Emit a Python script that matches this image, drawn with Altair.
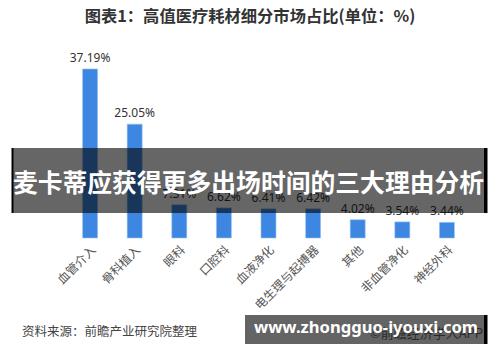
import altair as alt
import pandas as pd

categories = ["血管介入", "骨科植入", "眼科", "口腔科", "血液净化", "电生理与起搏器", "其他", "非血管净化", "神经外科"]
shares = [37.19, 25.05, 7.31, 6.62, 6.41, 6.42, 4.02, 3.54, 3.44]
value_labels = ["37.19%", "25.05%", "7.31%", "6.62%", "6.41%", "6.42%", "4.02%", "3.54%", "3.44%"]

title_text = "图表1：高值医疗耗材细分市场占比(单位：%)"
banner_text = "麦卡蒂应获得更多出场时间的三大理由分析"
source_text = "资料来源：前瞻产业研究院整理"
site_text = "www.zhongguo-iyouxi.com"
app_text = "©前瞻经济学人APP"

df = pd.DataFrame({"cat": categories, "share": shares, "label": value_labels})

# plot area origin in page pixels: left 68, top 38
L, T = 68, 38

x_enc = alt.X("cat:N", sort=categories, title=None,
              scale=alt.Scale(paddingInner=0.67, paddingOuter=0.33),
              axis=alt.Axis(labelAngle=-45, domain=False, ticks=False, labelPadding=6,
                            labelFontSize=12, labelColor="#555555",
                            labelFont="Noto Sans CJK SC"))
y_enc = alt.Y("share:Q", scale=alt.Scale(domain=[0, 44]), axis=None)

base = alt.Chart(df)
bars = base.mark_bar(color="#3D86E2", size=15, stroke="#9cc3f0", strokeWidth=0.6).encode(x=x_enc, y=y_enc)
labels = base.mark_text(dy=-11, fontSize=12, color="#333333", font="Noto Sans").encode(
    x=alt.X("cat:N", sort=categories), y=y_enc, text="label:N")

one = pd.DataFrame({"k": [0]})
ob = alt.Chart(one)

title = ob.mark_text(fontSize=16.3, fontWeight="bold", color="#333333",
                     font="Noto Sans CJK SC", baseline="middle").encode(
    x=alt.value(250 - L), y=alt.value(17 - T), text=alt.value(title_text))

banner = ob.mark_rect(color="black", opacity=0.6).encode(
    x=alt.value(13 - L), x2=alt.value(484 - L), y=alt.value(148 - T), y2=alt.value(213 - T))
banner_l = ob.mark_rect(color="black").encode(
    x=alt.value(11.5 - L), x2=alt.value(13.5 - L), y=alt.value(148 - T), y2=alt.value(213 - T))
banner_r = ob.mark_rect(color="black").encode(
    x=alt.value(484 - L), x2=alt.value(487.5 - L), y=alt.value(148 - T), y2=alt.value(213 - T))
banner_t = ob.mark_text(fontSize=24.8, fontWeight="bold", color="white",
                        font="Noto Sans CJK SC", baseline="middle").encode(
    x=alt.value(248.5 - L), y=alt.value(185 - T), text=alt.value(banner_text))

source = ob.mark_text(fontSize=12.5, color="#444444", font="Noto Sans CJK SC",
                      align="left", baseline="middle").encode(
    x=alt.value(22 - L), y=alt.value(332 - T), text=alt.value(source_text))

box = ob.mark_rect(color="#646464").encode(
    x=alt.value(245 - L), x2=alt.value(484 - L), y=alt.value(315 - T), y2=alt.value(344 - T))
box_r = ob.mark_rect(color="black").encode(
    x=alt.value(484 - L), x2=alt.value(487.5 - L), y=alt.value(315 - T), y2=alt.value(344 - T))
app = ob.mark_text(fontSize=13, color="#2a2a2a", font="Noto Sans CJK SC",
                   align="right", baseline="middle").encode(
    x=alt.value(483 - L), y=alt.value(334 - T), text=alt.value(app_text))
site = ob.mark_text(fontSize=16.6, fontWeight="bold", color="white", font="Noto Sans",
                    align="center", baseline="middle").encode(
    x=alt.value(366 - L), y=alt.value(328 - T), text=alt.value(site_text))

chart = alt.layer(bars, labels, title, banner, banner_l, banner_r, banner_t,
                  source, box, box_r, app, site).properties(
    width=401, height=200,
    autosize=alt.AutoSizeParams(type="none"),
    padding={"left": L, "top": T, "right": 500 - L - 401, "bottom": 362 - T - 200},
    background="white",
).configure_view(stroke=None)

chart.save("out.html", embed_options={"renderer": "svg", "actions": False})
